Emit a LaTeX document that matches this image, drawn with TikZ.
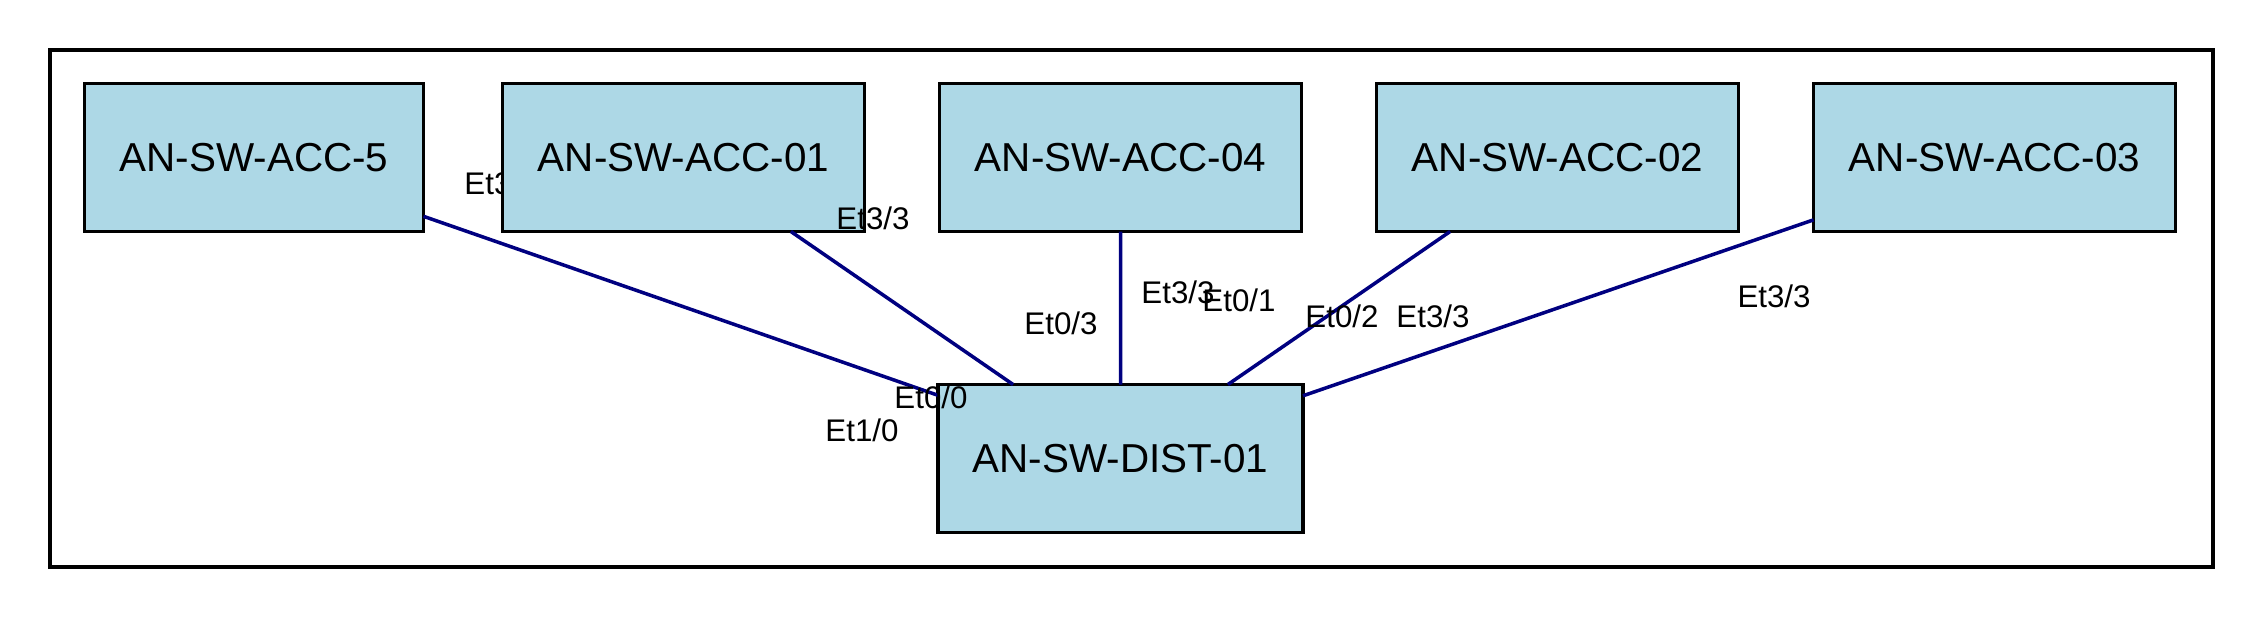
\documentclass[tikz,border=0pt]{standalone}
\usepackage{fontspec}
\setmainfont{Liberation Sans}
\usetikzlibrary{positioning}
\definecolor{swblue}{HTML}{ADD8E6}
\definecolor{linkblue}{HTML}{000080}

\begin{document}
\begin{tikzpicture}[
		switch/.style={draw=black, line width=1pt, fill=swblue, minimum width=3.62cm, minimum height=1.48cm, inner sep=0pt, outer sep=0pt, font=\fontsize{11.5}{13}\selectfont},
		link/.style={draw=linkblue, line width=1pt},
		port/.style={inner sep=0pt, font=\fontsize{8.9}{10}\selectfont}]
		% Page and frame
		\useasboundingbox (0,0) rectangle (22.63,-6.17);
		\draw[line width=1pt] (0.5,-0.5) rectangle (22.13,-5.67);
		% Distribution switch
		\node[switch, minimum width=3.65cm] (dist) at (11.205,-4.585) {AN-SW-DIST-01};
		% Access switches and links
		\node[switch, minimum width=3.39cm] (acc5) at (2.54,-1.575) {AN-SW-ACC-5};
		\draw[link] (acc5) -- (dist);
		\node[port] (p5) at (5.01,-1.83) {Et3/3};
		\node[port] (d10) at (8.62,-4.30) {Et1/0};
		\node[switch, right=0.79cm of acc5] (acc01) {AN-SW-ACC-01};
		\draw[link] (acc01) -- (dist);
		\node[port] (p01) at (8.73,-2.18) {Et3/3};
		\node[port] (d00) at (9.31,-3.97) {Et0/0};
		\node[switch, right=0.75cm of acc01] (acc04) {AN-SW-ACC-04};
		\draw[link] (acc04) -- (dist);
		\node[port] (p04) at (11.78,-2.92) {Et3/3};
		\node[port] (d03) at (10.61,-3.23) {Et0/3};
		\node[switch, right=0.75cm of acc04] (acc02) {AN-SW-ACC-02};
		\draw[link] (acc02) -- (dist);
		\node[port] (d01) at (12.39,-3.00) {Et0/1};
		\node[port] (d02) at (13.42,-3.16) {Et0/2};
		\node[port] (p02) at (14.33,-3.16) {Et3/3};
		\node[switch, right=0.75cm of acc02] (acc03) {AN-SW-ACC-03};
		\draw[link] (acc03) -- (dist);
		\node[port] (p03) at (17.74,-2.96) {Et3/3};
	\end{tikzpicture}
\end{document}
